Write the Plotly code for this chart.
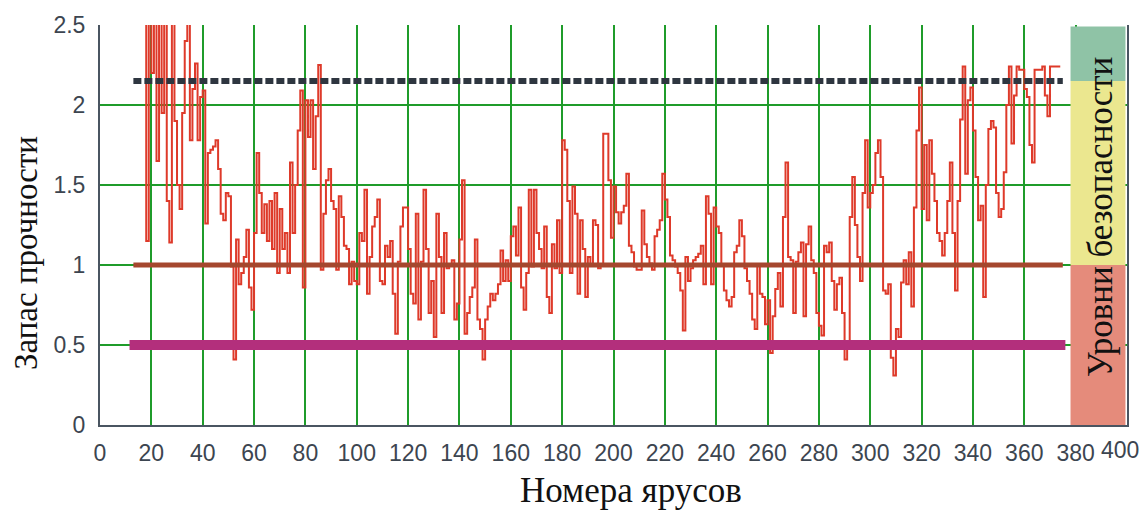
import plotly.graph_objects as go

# ---- data -------------------------------------------------------------
tiers = list(range(17, 375))
zapas = [
    # 17-75
    2.6, 1.15, 2.6, 2.2, 2.6, 1.65, 2.6, 1.95, 2.6, 1.4, 1.14, 2.6, 1.9, 1.5,
    1.35, 1.95, 2.4, 2.6, 1.78, 2.1, 2.26, 1.78, 2.05, 2.09, 1.26, 1.7, 1.72,
    1.74, 1.78, 1.6, 1.32, 1.28, 1.45, 1.43, 0.99, 0.41, 1.16, 0.88, 0.95,
    1.05, 1.22, 0.86, 0.72, 1.2, 1.7, 1.45, 1.2, 1.38, 1.15, 1.4, 1.1, 1.45,
    0.95, 1.35, 1.1, 1.2, 0.95, 1.64, 1.2,
    # 76-136
    1.5, 1.84, 2.09, 0.86, 2.03, 1.8, 2.03, 1.6, 1.93, 2.25, 0.97, 1.32, 1.53,
    1.6, 1.4, 1.35, 0.97, 1.43, 1.3, 1.12, 1.1, 0.88, 1.02, 0.9, 0.88, 1.2,
    1.15, 1.47, 0.82, 1.05, 1.24, 1.3, 1.41, 0.9, 0.88, 1.12, 1.05, 1.15,
    0.82, 0.57, 1.02, 1.24, 1.36, 1.36, 1.1, 0.82, 0.76, 1.32, 0.66, 1.02,
    1.47, 1.1, 0.7, 0.9, 0.55, 1.32, 1.05, 0.7, 1.2, 0.98, 1.0,
    # 137-196
    1.03, 0.66, 0.76, 1.16, 1.53, 0.57, 0.7, 0.8, 0.86, 1.16, 0.66, 0.6, 0.41,
    0.66, 0.74, 0.82, 0.78, 0.82, 0.88, 1.09, 0.9, 1.03, 0.9, 1.18, 1.24,
    1.06, 1.36, 0.86, 0.72, 0.95, 1.47, 0.99, 1.47, 1.2, 1.1, 0.98, 1.24, 0.8,
    0.7, 1.13, 0.98, 1.28, 0.95, 1.78, 1.72, 1.4, 0.95, 1.49, 1.32, 0.82,
    1.28, 1.1, 0.8, 1.05, 1.0, 1.28, 1.25, 0.98, 1.0, 1.82,
    # 197-256
    1.82, 1.53, 1.17, 1.49, 1.33, 1.26, 1.33, 1.37, 1.57, 1.12, 1.08, 0.99,
    0.97, 0.97, 1.34, 1.13, 1.05, 1.01, 0.97, 1.18, 1.22, 1.28, 1.57, 1.41,
    1.3, 1.06, 1.03, 0.99, 0.95, 0.84, 0.59, 1.05, 0.9, 0.98, 1.03, 1.05,
    1.07, 1.12, 0.88, 1.43, 1.32, 0.88, 1.36, 1.24, 1.2, 1.0, 0.84, 0.78,
    0.74, 0.8, 1.08, 1.12, 1.28, 1.18, 0.98, 0.9, 0.82, 0.66, 0.6, 1.0,
    # 257-317
    0.82, 0.8, 0.63, 0.78, 0.45, 0.68, 0.85, 0.95, 0.74, 1.3, 1.64, 1.05,
    1.03, 0.7, 1.02, 1.08, 1.14, 0.68, 1.13, 1.24, 1.03, 0.95, 0.7, 0.62,
    0.56, 1.12, 1.08, 1.14, 0.9, 0.72, 0.88, 0.92, 0.7, 0.41, 0.5, 1.3, 1.55,
    1.25, 1.05, 0.9, 1.45, 1.78, 1.36, 1.45, 1.5, 1.7, 1.78, 1.55, 0.84,
    0.82, 0.88, 0.42, 0.31, 0.6, 0.55, 0.89, 1.03, 0.88, 1.08, 0.74, 1.36,
    # 318-374
    1.84, 2.11, 1.35, 1.75, 1.28, 1.78, 1.57, 1.4, 1.2, 1.15, 1.06, 1.2, 1.4,
    1.64, 1.2, 0.84, 1.4, 1.91, 2.24, 1.57, 2.03, 2.11, 1.84, 1.55, 1.28,
    1.37, 0.8, 1.5, 1.85, 1.9, 1.86, 1.45, 1.3, 1.35, 1.58, 2.0, 2.24, 1.76,
    2.06, 2.24, 2.22, 2.22, 2.1, 2.05, 1.75, 1.64, 2.22, 2.22, 2.22, 2.24,
    2.06, 1.93, 2.24, 2.24, 2.24, 2.24, 2.24,
]
tiers = tiers[:len(zapas)]

level_names = ["upper", "norm", "critical"]
level_values = [2.15, 1.0, 0.5]
level_x_from = [13, 13, 11.5]
level_x_to = [375, 375, 376]

band_bottoms = [0.0, 1.0, 2.15]
band_tops = [1.0, 2.15, 2.49]
band_x = [378, 399.4]

x_ticks = list(range(0, 381, 20))
x_last_tick = 400
y_ticks = [0, 0.5, 1, 1.5, 2, 2.5]
y_tick_text = ["0", "0.5", "1", "1.5", "2", "2.5"]

# ---- figure -----------------------------------------------------------
fig = go.Figure()

fig.add_trace(go.Scatter(
    x=tiers, y=zapas, mode="lines", line_shape="hv",
    line=dict(color="#de3a2a", width=2), showlegend=False, hoverinfo="skip"))

level_styles = [
    dict(color="#2e3640", width=6, dash="8px,3px"),
    dict(color="#a5472e", width=5),
    dict(color="#b32f7c", width=10),
]
for name, v, x0, x1, st in zip(level_names, level_values, level_x_from,
                                level_x_to, level_styles):
    fig.add_trace(go.Scatter(x=[x0, x1], y=[v, v], mode="lines", line=st,
                             name=name, showlegend=False, hoverinfo="skip"))

band_colors = ["#e58b7b", "#ebe78f", "#8fc3a6"]
for b0, b1, c in zip(band_bottoms, band_tops, band_colors):
    fig.add_shape(type="rect", xref="x", yref="y", x0=band_x[0], x1=band_x[1],
                  y0=b0, y1=b1, fillcolor=c, line=dict(width=0), layer="above")

tick_font = dict(family="Liberation Sans, Arial, sans-serif", size=23,
                 color="#3c4550")
grid_col = "#1f9c2a"

fig.update_xaxes(range=[0, 400], tickvals=x_ticks, ticktext=[str(t) for t in x_ticks],
                 showgrid=True, gridcolor=grid_col, gridwidth=2,
                 showline=True, linecolor="#4a5561", linewidth=2,
                 zeroline=False, ticks="", tickfont=tick_font,
                 ticklabelstandoff=6)
fig.update_yaxes(range=[0, 2.5], tickvals=y_ticks, ticktext=y_tick_text,
                 showgrid=True, gridcolor=grid_col, gridwidth=2,
                 showline=True, linecolor="#4a5561", linewidth=2, mirror=True,
                 zeroline=False, ticks="", tickfont=tick_font,
                 ticklabelstandoff=8)

# last x tick label, kept inside the page edge
fig.add_annotation(text=str(x_last_tick), xref="x", yref="paper",
                   x=x_last_tick, y=0, yshift=-10, xshift=-7,
                   xanchor="center", yanchor="top",
                   showarrow=False, font=tick_font)

serif = "Liberation Serif, Times New Roman, serif"
fig.add_annotation(text="Запас прочности", xref="paper", yref="paper",
                   x=-0.072, y=0.43, xanchor="center", yanchor="middle",
                   textangle=-90, showarrow=False,
                   font=dict(family=serif, size=33, color="#111111"))
fig.add_annotation(text="Номера ярусов", xref="paper", yref="paper",
                   x=0.517, y=-0.163, xanchor="center", yanchor="middle",
                   showarrow=False, font=dict(family=serif, size=35, color="#111111"))
fig.add_annotation(text="Уровни безопасности", xref="x", yref="y",
                   x=389.5, y=1.3, xanchor="center", yanchor="middle",
                   textangle=-90, showarrow=False,
                   font=dict(family=serif, size=35, color="#111111"))

fig.update_layout(width=1141, height=513,
                  margin=dict(l=100, r=14, t=25, b=88),
                  plot_bgcolor="white", paper_bgcolor="white",
                  showlegend=False)

fig.write_html("out.html")
